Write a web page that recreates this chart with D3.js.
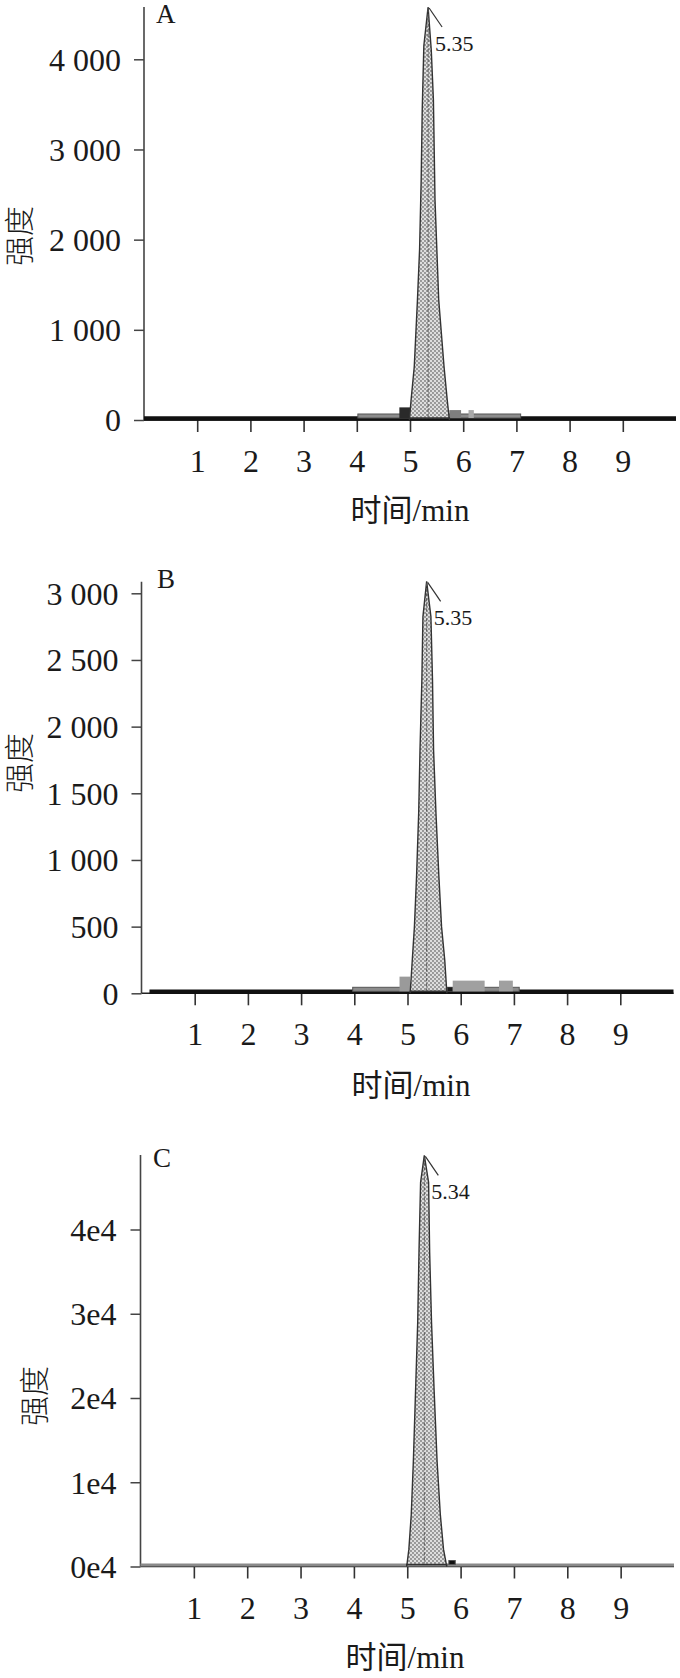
<!DOCTYPE html>
<html>
<head>
<meta charset="utf-8">
<script src="https://cdn.jsdelivr.net/npm/d3@7"></script>
<style>
  body { margin: 0; background: #fff; }
  svg text { font-family: "Liberation Serif", "Noto Sans CJK SC", serif; fill: #1a1a1a; }
</style>
</head>
<body>
<div id="vis"></div>
<script>
// shared axis ticks
const timeTicks = [1, 2, 3, 4, 5, 6, 7, 8, 9]
const timeDomain = [0, 10]

// panel A
const yTicksA = [0, 1000, 2000, 3000, 4000]
const peakTimeA = [4.99, 5.02, 5.08, 5.14, 5.18, 5.21, 5.23, 5.26, 5.34, 5.40, 5.44, 5.47, 5.54, 5.64, 5.70, 5.74]
const peakValA  = [0, 220, 590, 1330, 1890, 2660, 3440, 4150, 4580, 4100, 3550, 2440, 1330, 590, 220, 0]
const shelfStartA = [4.02, 4.80, 5.74, 6.10]
const shelfEndA   = [7.08, 5.02, 5.96, 6.20]
const shelfValA   = [45, 140, 110, 110]

// panel B
const yTicksB = [0, 500, 1000, 1500, 2000, 2500, 3000]
const peakTimeB = [5.05, 5.09, 5.13, 5.17, 5.21, 5.235, 5.27, 5.29, 5.36, 5.44, 5.47, 5.49, 5.535, 5.59, 5.64, 5.70, 5.74]
const peakValB  = [0, 250, 500, 875, 1350, 1825, 2350, 2825, 3090, 2825, 2350, 1825, 1350, 875, 500, 250, 0]
const shelfStartB = [3.97, 4.85, 5.75, 5.85, 6.72]
const shelfEndB   = [7.10, 5.05, 5.85, 6.45, 6.98]
const shelfValB   = [40, 125, 40, 95, 95]

// panel C
const yTicksC = [0, 10000, 20000, 30000, 40000]
const yLabelsC = ['0e4', '1e4', '2e4', '3e4', '4e4']
const peakTimeC = [4.99, 5.03, 5.075, 5.114, 5.155, 5.196, 5.22, 5.25, 5.32, 5.40, 5.42, 5.455, 5.505, 5.56, 5.62, 5.68, 5.74]
const peakValC  = [0, 2030, 6170, 12400, 20700, 29000, 37300, 45600, 48800, 45600, 37300, 29000, 20700, 12400, 6170, 2030, 0]
const shelfStartC = [5.78]
const shelfEndC   = [5.90]
const shelfValC   = [400]

const peakLabels = ['5.35', '5.35', '5.34']
const panelNames = ['A', 'B', 'C']
const yTitle = '强度'
const xTitle = '时间/min'

let width = 680, height = 1678

let svg = d3.select('#vis')
  .append('svg')
  .attr('width', width)
  .attr('height', height)

// stippled fill for the peaks
let pat = svg.append('defs').append('pattern')
  .attr('id', 'dots')
  .attr('patternUnits', 'userSpaceOnUse')
  .attr('width', 4).attr('height', 4)
pat.append('rect').attr('width', 4).attr('height', 4).attr('fill', '#dedede')
pat.append('circle').attr('cx', 1).attr('cy', 1).attr('r', 0.9).attr('fill', '#7a7a7a')
pat.append('circle').attr('cx', 3).attr('cy', 3).attr('r', 0.9).attr('fill', '#7a7a7a')

let panels = [
  { name: panelNames[0], label: peakLabels[0], ticks: yTicksA, fmt: d => d3.format(',')(d).replace(',', ' '),
    times: peakTimeA, vals: peakValA, s0: shelfStartA, s1: shelfEndA, sv: shelfValA,
    shelfFill: ['#8c8c8c', '#2a2a2a', '#7e7e7e', '#a8a8a8'],
    xr: [144, 676], yr: [420, 59.3], yTop: 4000, axisTop: 7, runStart: 0,
    letter: [156, 23], yt: [19, 236], xt: [410, 521], labelRight: 23 },
  { name: panelNames[1], label: peakLabels[1], ticks: yTicksB, fmt: d => d3.format(',')(d).replace(',', ' '),
    times: peakTimeB, vals: peakValB, s0: shelfStartB, s1: shelfEndB, sv: shelfValB,
    shelfFill: ['#8c8c8c', '#9a9a9a', '#1a1a1a', '#a0a0a0', '#a0a0a0'],
    xr: [141.5, 673.5], yr: [993.3, 593.3], yTop: 3000, axisTop: 581.7, runStart: 0.15,
    letter: [157, 588], yt: [19, 763], xt: [411, 1096], labelRight: 23 },
  { name: panelNames[2], label: peakLabels[2], ticks: yTicksC, fmt: (d, i) => yLabelsC[i],
    times: peakTimeC, vals: peakValC, s0: shelfStartC, s1: shelfEndC, sv: shelfValC,
    shelfFill: ['#111'],
    xr: [140.5, 674], yr: [1566.5, 1229.5], yTop: 40000, axisTop: 1155, runStart: 0,
    letter: [153, 1167], yt: [34, 1396], xt: [405, 1668], labelRight: 24 }
]

panels.forEach((p, pi) => {
  let x = d3.scaleLinear().domain(timeDomain).range(p.xr)
  let y = d3.scaleLinear().domain([0, p.yTop]).range(p.yr)
  let g = svg.append('g')

  // y axis
  let yAxis = d3.axisLeft(y).tickValues(p.ticks).tickSize(10).tickPadding(p.labelRight - 10).tickFormat(p.fmt)
  let ya = g.append('g').attr('transform', `translate(${x(0)},0)`).call(yAxis)
  ya.select('.domain').remove()
  ya.selectAll('.tick line').attr('stroke', '#444').attr('stroke-width', 1.5)
  ya.selectAll('.tick text').style('font-size', '32px').attr('dy', '0.34em')
  g.append('line')
    .attr('x1', x(0)).attr('x2', x(0))
    .attr('y1', y(0)).attr('y2', p.axisTop)
    .attr('stroke', '#444').attr('stroke-width', 1.6)

  // x axis
  let xAxis = d3.axisBottom(x).tickValues(timeTicks).tickSize(12).tickFormat(d3.format('d'))
  let xa = g.append('g').attr('transform', `translate(0,${y(0)})`).call(xAxis)
  xa.select('.domain').remove()
  xa.selectAll('.tick line').attr('stroke', '#333').attr('stroke-width', 1.6)
  xa.selectAll('.tick text').style('font-size', '32px').attr('y', 52).attr('dy', 0)
  g.append('line')
    .attr('x1', x(0)).attr('x2', x(timeDomain[1]))
    .attr('y1', y(0)).attr('y2', y(0))
    .attr('stroke', '#222').attr('stroke-width', 1.6)

  // baseline trace
  g.append('line')
    .attr('x1', x(p.runStart)).attr('x2', x(timeDomain[1]))
    .attr('y1', y(0) - 1.5).attr('y2', y(0) - 1.5)
    .attr('stroke', pi === 2 ? '#8a8a8a' : '#111').attr('stroke-width', pi === 2 ? 3 : 4.5)

  // integration shelves
  g.selectAll('.shelf')
    .data(p.s0.map((s, i) => ({ t0: s, t1: p.s1[i], v: p.sv[i], i: i })))
    .join('rect')
    .attr('x', d => x(d.t0))
    .attr('width', d => x(d.t1) - x(d.t0))
    .attr('y', d => Math.min(y(d.v), y(0) - 6))
    .attr('height', d => y(0) - 2 - Math.min(y(d.v), y(0) - 6))
    .attr('fill', d => p.shelfFill[d.i])
    .attr('stroke', d => d.i === 0 ? '#555' : 'none')
    .attr('stroke-width', 1)

  // peak
  let pts = p.times.map((t, i) => [t, p.vals[i]])
  let area = d3.area()
    .x(d => x(d[0]))
    .y0(y(0) - 2)
    .y1(d => y(d[1]))
  g.append('path')
    .datum(pts)
    .attr('d', area)
    .attr('fill', 'url(#dots)')
    .attr('stroke', '#333')
    .attr('stroke-width', 1.4)

  let apex = pts.reduce((a, b) => (b[1] > a[1] ? b : a))
  let ax = x(apex[0]), ay = y(apex[1])
  g.append('line')
    .attr('x1', ax).attr('x2', ax)
    .attr('y1', ay + 2).attr('y2', y(0) - 3)
    .attr('stroke', '#555').attr('stroke-width', 1)
    .attr('stroke-dasharray', '3,2')

  // retention time label
  g.append('line')
    .attr('x1', ax + 1).attr('y1', ay + 1)
    .attr('x2', ax + 14).attr('y2', ay + 20)
    .attr('stroke', '#333').attr('stroke-width', 1.2)
  g.append('text')
    .attr('x', ax + 7).attr('y', ay + 44)
    .style('font-size', '22px')
    .text(p.label)

  // panel letter and titles
  g.append('text')
    .attr('x', p.letter[0]).attr('y', p.letter[1])
    .style('font-size', '27px')
    .text(p.name)

  g.append('text')
    .attr('transform', `translate(${p.yt[0]},${p.yt[1]}) rotate(-90)`)
    .attr('text-anchor', 'middle')
    .attr('dy', '0.36em')
    .style('font-size', '30px')
    .style('font-weight', 300)
    .text(yTitle)

  g.append('text')
    .attr('x', p.xt[0]).attr('y', p.xt[1])
    .attr('text-anchor', 'middle')
    .style('font-size', '31px')
    .text(xTitle)
})
</script>
</body>
</html>
